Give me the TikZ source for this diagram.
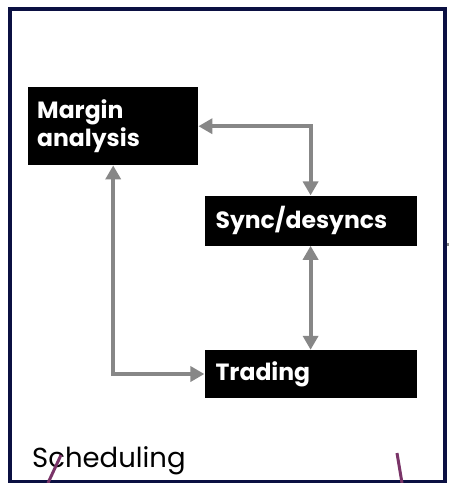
\documentclass[tikz,border=0pt]{standalone}
\usepackage{fontspec}
\setmainfont{Poppins}
\usepackage{tikz}
\usetikzlibrary{positioning,arrows.meta}

\definecolor{framenavy}{HTML}{0B1042}
\definecolor{linkgray}{HTML}{878787}
\definecolor{markplum}{HTML}{7A3468}

\begin{document}
\begin{tikzpicture}[x=1pt, y=-1pt, node distance=30pt and 6pt,
  >={Triangle[length=14pt,width=15pt]}]

\useasboundingbox (0,0) rectangle (449,483);

% Frame
\draw[framenavy, line width=4pt] (10,9) rectangle (445,481.5);

% Nodes
\node[fill=black, text=white, font=\fontsize{23.5}{28}\selectfont\bfseries, align=left,
  text width=152pt, inner xsep=9pt, minimum height=78pt, anchor=north west] (margin)
  at (28,87) {Margin\\analysis};
\node[fill=black, text=white, font=\fontsize{23.5}{28}\selectfont\bfseries, align=left,
  text width=190pt, inner xsep=11pt, minimum height=50pt, below right=of margin] (sync) {Sync/desyncs};
\node[fill=black, text=white, font=\fontsize{23.5}{28}\selectfont\bfseries, align=left,
  text width=190pt, inner xsep=11pt, minimum height=48pt, below=104pt of sync] (trading) {Trading};

\node[anchor=base west, inner sep=0pt, font=\fontsize{27.5}{30}\selectfont] (sched) at (32,467) {Scheduling};

% Arrows
\draw[<->, linkgray, line width=4pt] (margin.east) -| (sync.north);
\draw[<->, linkgray, line width=4pt] (sync.south) -- (trading.north);
\draw[<->, linkgray, line width=4pt] (margin.south) |- (trading.west);

% Marks
\draw[markplum, line width=3pt] (48,483) -- (61,455);
\draw[markplum, line width=3pt] (397,453) -- (402,483);
\fill[linkgray] (446.5,242.5) rectangle (448.5,245.5);

\end{tikzpicture}
\end{document}
